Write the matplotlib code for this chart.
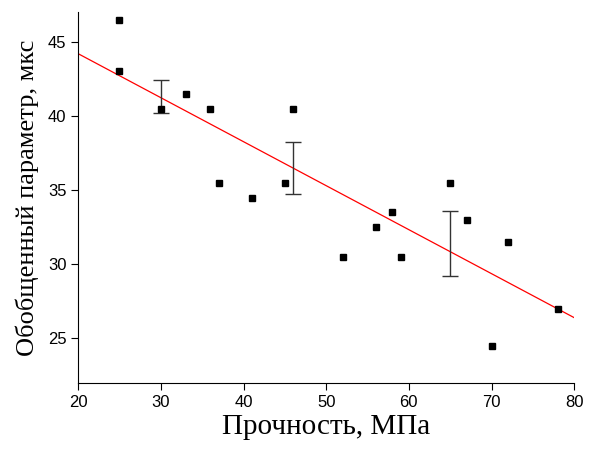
import numpy as np
import matplotlib.pyplot as plt

# данные
strength = [25, 25, 30, 33, 36, 37, 41, 45, 46, 52, 56, 58, 59, 65, 67, 70, 72, 78]
param = [46.5, 43, 40.5, 41.5, 40.5, 35.5, 34.5, 35.5, 40.5, 30.5, 32.5, 33.5, 30.5, 35.5, 33, 24.5, 31.5, 27]

err_x = [30, 46, 65]
err_y = [41.3, 36.5, 31.4]
err_low = [1.1, 1.75, 2.2]
err_high = [1.1, 1.75, 2.2]

fit_x = [20, 80]
fit_y = [44.2, 26.4]

fig = plt.figure(figsize=(5.92, 4.5), dpi=100)
ax = fig.add_axes([0.132, 0.149, 0.838, 0.824])

ax.plot(fit_x, fit_y, color='red', lw=0.9)
ax.errorbar(err_x, err_y, yerr=[err_low, err_high], fmt='none', ecolor='#333333',
            elinewidth=1, capsize=5.5, capthick=1)
ax.plot(strength, param, 's', color='black', markersize=5)

ax.set_xlim(20, 80)
ax.set_ylim(22, 47)
ax.set_xticks([20, 30, 40, 50, 60, 70, 80])
ax.set_yticks([25, 30, 35, 40, 45])

for s in ['top', 'right']:
    ax.spines[s].set_visible(False)
ax.tick_params(direction='out', length=5, labelsize=12)
for lab in ax.get_xticklabels() + ax.get_yticklabels():
    lab.set_family('Liberation Sans')

ax.set_xlabel('Прочность, МПа', family='Liberation Serif', fontsize=21, labelpad=3)
ax.set_ylabel('Обобщенный параметр, мкс', family='Liberation Serif', fontsize=19, labelpad=6)

fig.savefig('out.png')
